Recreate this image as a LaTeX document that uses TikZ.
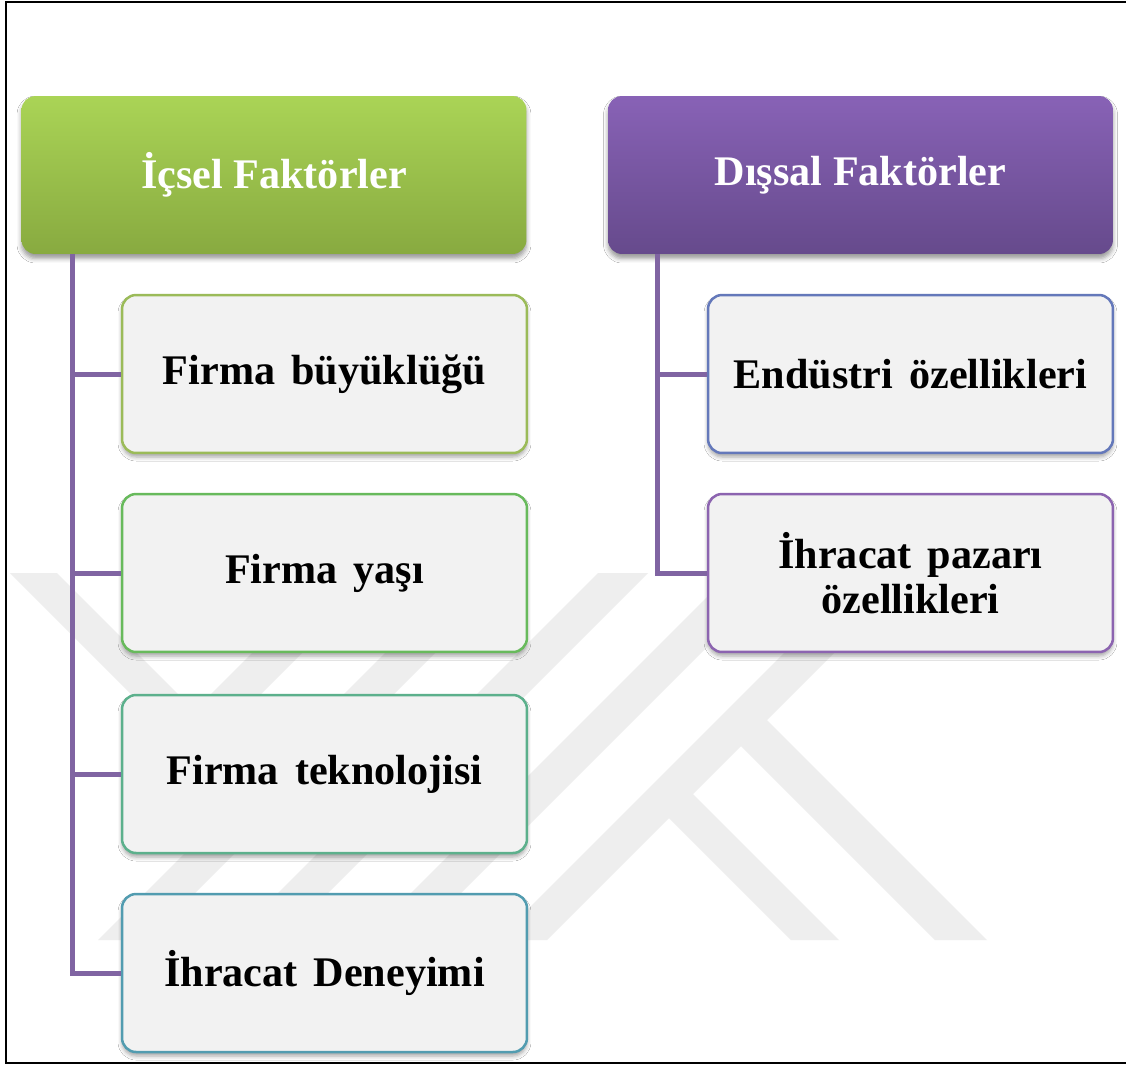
\documentclass[tikz,border=0pt]{standalone}
\usepackage{fontspec}
\setmainfont{Liberation Serif}
\usetikzlibrary{shadows.blur}

\definecolor{hdrgreentop}{RGB}{170,212,86}
\definecolor{hdrgreenbot}{RGB}{136,170,64}
\definecolor{hdrpurptop}{RGB}{136,98,182}
\definecolor{hdrpurpbot}{RGB}{102,74,140}
\definecolor{trunkpurple}{RGB}{128,100,162}
\definecolor{edgeA}{RGB}{155,187,89}
\definecolor{edgeB}{RGB}{104,186,92}
\definecolor{edgeC}{RGB}{92,176,140}
\definecolor{edgeD}{RGB}{82,156,176}
\definecolor{edgeE}{RGB}{100,120,186}
\definecolor{edgeF}{RGB}{140,100,176}
\definecolor{wmgray}{RGB}{238,238,238}

\newcommand{\itemtextfont}{\bfseries\fontsize{24}{25.5}\selectfont\spaceskip=0.38em plus 0.1em\relax}

\tikzset{
  header/.style={rounded corners=0.28cm, minimum width=10.1cm, minimum height=3.16cm,
    inner sep=0pt, text=white, shade,
    font=\bfseries\fontsize{24}{26}\selectfont,
    blur shadow={shadow xshift=0pt, shadow yshift=-0.09cm, shadow blur radius=0.09cm, shadow opacity=40}},
  item/.style={rounded corners=0.28cm, minimum width=8.1cm, minimum height=3.16cm,
    inner sep=0pt, line width=0.05cm, fill=black!5, align=center, text=black,
    font=\itemtextfont,
    blur shadow={shadow xshift=0pt, shadow yshift=-0.08cm, shadow blur radius=0.08cm, shadow opacity=35}},
  conn/.style={draw=trunkpurple, line width=0.1cm},
  wmband/.style={fill=wmgray, draw=none}
}

\begin{document}
\begin{tikzpicture}[x=0.02cm, y=-0.02cm]
  \useasboundingbox (0,0) rectangle (1126,1066);
  \fill[white] (0,0) rectangle (1126,1066);

  % light background emblem made of diagonal bands
  \fill[wmband] (10,573) -- (57,573) -- (244,760) -- (197,760) -- cycle;
  \fill[wmband] (332,573) -- (382,573) -- (195,760) -- (145,760) -- cycle;
  \fill[wmband] (465,573) -- (515,573) -- (148,940) -- (98,940) -- cycle;
  \fill[wmband] (598,573) -- (648,573) -- (281,940) -- (231,940) -- cycle;
  \fill[wmband] (731,573) -- (781,573) -- (414,940) -- (364,940) -- cycle;
  \fill[wmband] (864,573) -- (914,573) -- (547,940) -- (497,940) -- cycle;
  \fill[wmband] (660.5,809.5) -- (684.5,785.5) -- (839,940) -- (791,940) -- cycle;
  \fill[wmband] (732.5,737.5) -- (758.5,711.5) -- (987,940) -- (935,940) -- cycle;

  % outer frame
  \draw[line width=0.05cm] (1140,2) -| (6,1063) -- (1140,1063);

  % category headers
  \node[header, top color=hdrgreentop, bottom color=hdrgreenbot] (h1) at (274,175) {İçsel Faktörler};
  \node[header, top color=hdrpurptop, bottom color=hdrpurpbot] (h2) at (860.5,175) {Dışsal Faktörler};

  % internal factors
  \node[item, draw=edgeA] (c1) at (324.5,374) {Firma büyüklüğü};
  \node[item, draw=edgeB] (c2) at (324.5,573) {Firma yaşı};
  \node[item, draw=edgeC] (c3) at (324.5,774) {Firma teknolojisi};
  \node[item, draw=edgeD] (c4) at (324.5,973) {İhracat Deneyimi};

  % external factors
  \node[item, draw=edgeE] (d1) at (910.5,374) {Endüstri özellikleri};
  \node[item, draw=edgeF] (d2) at (910.5,573) {İhracat pazarı\\özellikleri};

  % tree connectors
  \draw[conn] ([xshift=1.02cm]h1.south west) |- (c1.west);
  \draw[conn] ([xshift=1.02cm]h1.south west) |- (c2.west);
  \draw[conn] ([xshift=1.02cm]h1.south west) |- (c3.west);
  \draw[conn] ([xshift=1.02cm]h1.south west) |- (c4.west);
  \draw[conn] ([xshift=1.0cm]h2.south west) |- (d1.west);
  \draw[conn] ([xshift=1.0cm]h2.south west) |- (d2.west);
\end{tikzpicture}
\end{document}
